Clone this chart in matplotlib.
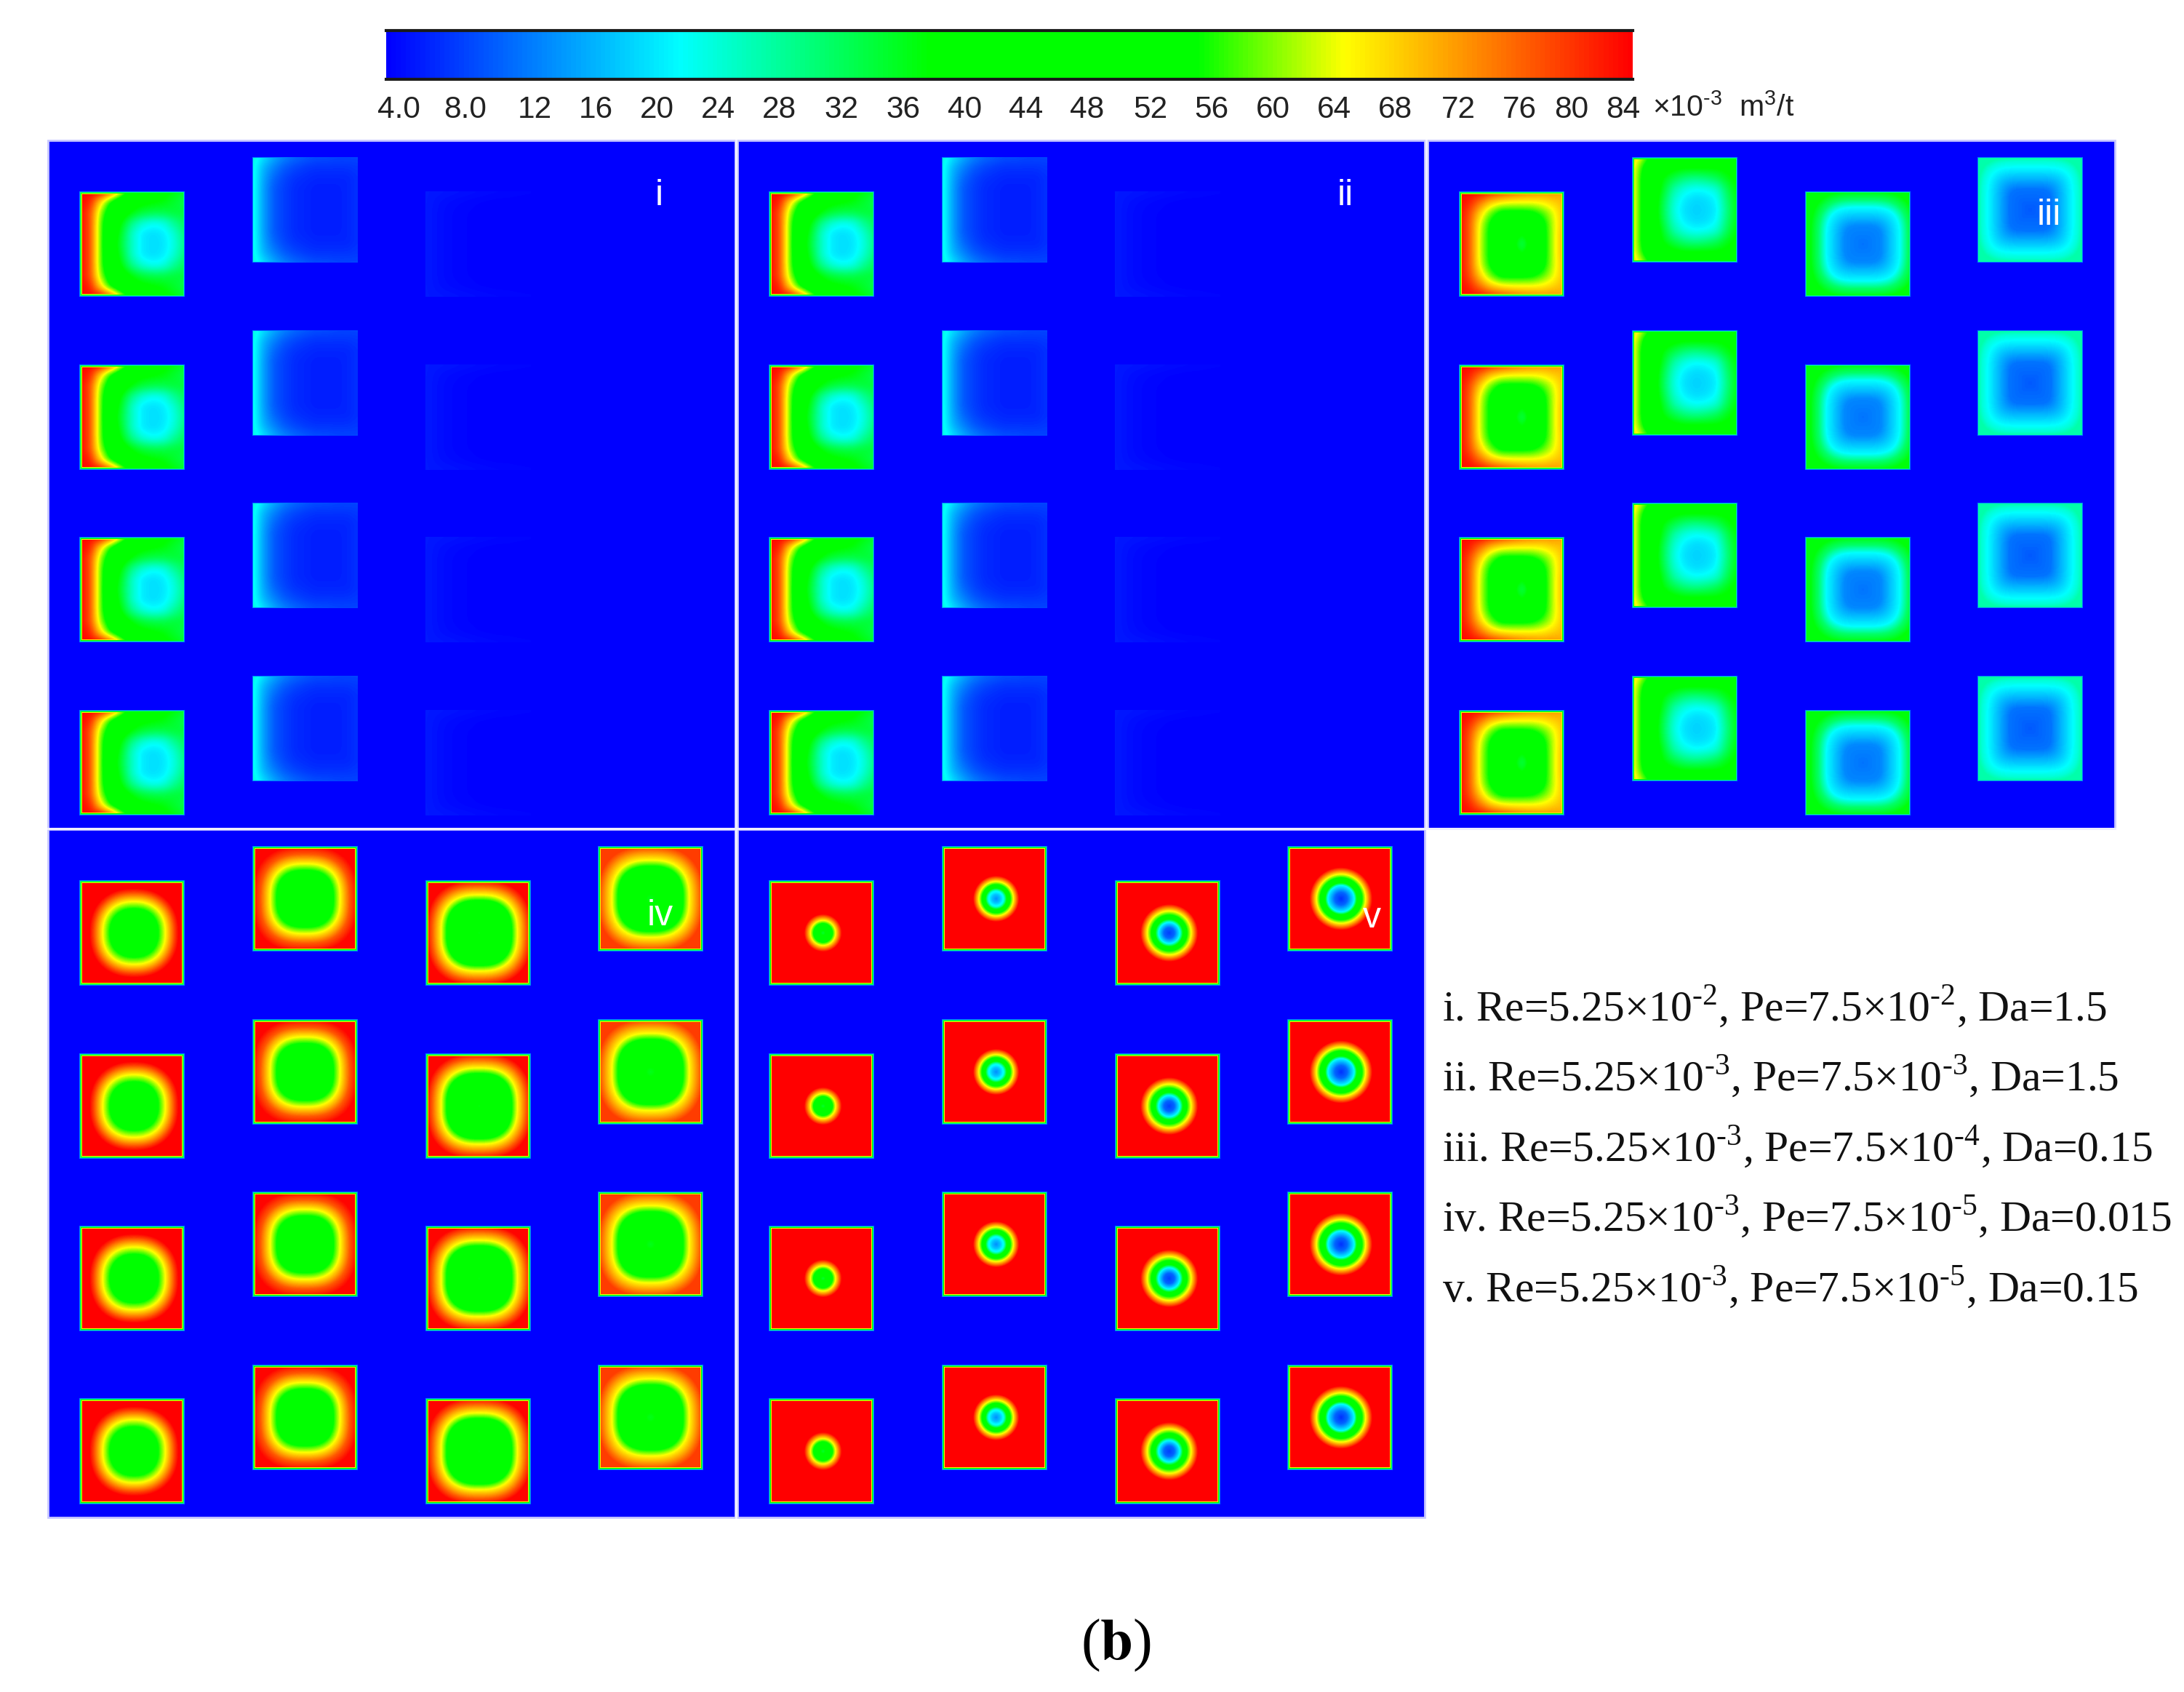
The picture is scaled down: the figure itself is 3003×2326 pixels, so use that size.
import matplotlib
matplotlib.use('Agg')
import matplotlib.pyplot as plt
import numpy as np
from matplotlib.colors import LinearSegmentedColormap
from matplotlib.patches import Rectangle

plt.rcParams['font.family'] = ['Liberation Sans', 'DejaVu Sans']

# colour scale, x10^-3 m3/t
bar_labels = ['4.0', '8.0', '12', '16', '20', '24', '28', '32', '36', '40', '44', '48', '52',
              '56', '60', '64', '68', '72', '76', '80', '84']
vmin = 3.2
vmax = 84.6

# value grids read off the blocks that are not symmetric: rows are the top half
# of a block (mirrored for the bottom), columns go left to right
i_c1 = [[84, 84, 84, 78, 64, 52, 45, 42, 40, 38, 36],
        [84, 82, 68, 55, 47, 42, 40, 39, 38, 36, 34],
        [84, 79, 62, 50, 43, 38, 35, 34, 34, 35, 35],
        [84, 79, 60, 46, 38, 30, 25, 23, 24, 29, 33],
        [84, 79, 60, 44, 36, 26, 21, 20, 21, 25, 31],
        [84, 79, 60, 43, 35, 26, 21, 20, 20.5, 24, 30]]
i_c2 = [[25, 20, 16, 13, 11, 10, 9, 9, 8.5, 8.5, 8.5],
        [24, 17, 13, 10, 8.5, 7.5, 7, 7, 7, 7, 7.5],
        [24, 16, 11, 8.5, 7, 6.5, 6, 6, 6, 6, 7],
        [24, 15.5, 10, 8, 6.5, 6, 5.5, 5.5, 5.5, 6, 7],
        [24, 15.5, 10, 8, 6.5, 6, 5.5, 5.5, 5.5, 6, 7],
        [24, 15.5, 10, 8, 6.5, 6, 5.5, 5.5, 5.5, 6, 7]]
i_c3 = [[5.2, 5, 4.8, 4.6, 4.4, 4.2, 4, 3.9, 3.8, 3.7, 3.6],
        [5.2, 4.6, 4.2, 3.9, 3.7, 3.5, 3.4, 3.3, 3.3, 3.2, 3.2],
        [5.2, 4.5, 4, 3.7, 3.5, 3.4, 3.3, 3.2, 3.2, 3.2, 3.2],
        [5.2, 4.5, 4, 3.7, 3.5, 3.4, 3.3, 3.2, 3.2, 3.2, 3.2],
        [5.2, 4.5, 4, 3.7, 3.5, 3.4, 3.3, 3.2, 3.2, 3.2, 3.2],
        [5.2, 4.5, 4, 3.7, 3.5, 3.4, 3.3, 3.2, 3.2, 3.2, 3.2]]
iii_c1 = [[84, 84, 84, 82, 80, 78, 76, 75, 74, 74, 72],
          [84, 82, 76, 70, 67, 66, 66, 66, 67, 69, 71],
          [84, 79, 69, 60, 54, 54, 54, 55, 59, 65, 71],
          [84, 78, 65, 55, 50, 48, 46, 48, 54, 64, 71],
          [84, 78, 64, 54, 48, 44, 38, 45, 53, 64, 72],
          [84, 78, 64, 54, 47, 42, 33, 43, 53, 64, 72]]
iii_c2 = [[70, 62, 52, 46, 44, 44, 44, 44, 44, 44, 42],
          [68, 56, 46, 42, 40, 39, 39, 39, 39, 40, 41],
          [68, 54, 44, 38, 34, 31, 30, 31, 33, 37, 40],
          [68, 54, 44, 36, 28, 24, 22.5, 23, 25, 33, 39],
          [68, 54, 43, 34, 25, 21, 19.5, 20, 22, 31, 38],
          [68, 54, 43, 33, 24, 20, 19, 19.5, 21, 30, 38]]

# the other blocks: value against normalised distance from the block's core
iii_c3_r = [0, .35, .7, .85, 1]
iii_c3_v = [12, 13.5, 22.3, 32, 38]
iii_c4_r = [0, .4, .8, .92, 1]
iii_c4_v = [10, 12, 22, 25, 28]
iv_c1_r = [0, .46, .6, .78, .85, 1]
iv_c1_v = [46, 56, 66, 80, 84.6, 84.6]
iv_c2_r = [0, .54, .67, .85, 1]
iv_c2_v = [44, 56, 66, 78, 84]
iv_c3_r = [0, .15, .62, .73, .9, 1]
iv_c3_v = [38, 42, 56, 66, 78, 84]
iv_c4_r = [0, .2, .62, .74, .92, 1]
iv_c4_v = [37, 41, 56, 66, 76, 80]
v_c1_r = [0, .1, .18, .24, .36, 1]
v_c1_v = [36, 42, 56, 66, 84.6, 84.6]
v_c2_r = [0, .08, .15, .2, .27, .33, .44, 1]
v_c2_v = [14, 18, 24, 38, 56, 66, 84.6, 84.6]
v_c3_r = [0, .1, .2, .26, .34, .42, .55, 1]
v_c3_v = [8, 11, 22, 38, 56, 66, 84.6, 84.6]
v_c4_r = [0, .12, .25, .3, .4, .47, .6, 1]
v_c4_v = [7, 11, 22, 38, 56, 66, 84.6, 84.6]

cases = ['i. Re=5.25×10$^{\\mathdefault{‐2}}$, Pe=7.5×10$^{\\mathdefault{‐2}}$, Da=1.5',
         'ii. Re=5.25×10$^{\\mathdefault{‐3}}$, Pe=7.5×10$^{\\mathdefault{‐3}}$, Da=1.5',
         'iii. Re=5.25×10$^{\\mathdefault{‐3}}$, Pe=7.5×10$^{\\mathdefault{‐4}}$, Da=0.15',
         'iv. Re=5.25×10$^{\\mathdefault{‐3}}$, Pe=7.5×10$^{\\mathdefault{‐5}}$, Da=0.015',
         'v. Re=5.25×10$^{\\mathdefault{‐3}}$, Pe=7.5×10$^{\\mathdefault{‐5}}$, Da=0.15']

W = 3003
H = 2326
size = 145
cmap = LinearSegmentedColormap.from_list('rate', [(0, '#0000ff'), (.235, '#00ffff'), (.436, '#00ff00'),
                                                  (.652, '#00ff00'), (.77, '#ffff00'), (1, '#ff0000')])


def edge_fringe(z):
    # blocks fade to the background through the whole scale over a few pixels
    n = z.shape[0]
    a = np.arange(n) + .5
    d = np.minimum.outer(np.minimum(a, a[::-1]), np.minimum(a, a[::-1]))
    return np.minimum(z, vmin + d / 4.5 * (vmax - vmin))


def from_grid(grid):
    half = np.array(grid, dtype=float)
    g = np.vstack([half, half[-2::-1]])
    s = np.linspace(0, 1, size)
    z = np.array([np.interp(s, np.linspace(0, 1, g.shape[1]), row) for row in g])
    z = np.array([np.interp(s, np.linspace(0, 1, g.shape[0]), col) for col in z.T]).T
    # box blur to hide the coarse grid
    k = np.ones(9) / 9
    for i in range(2):
        z = np.pad(z, 4, mode='edge')
        z = np.apply_along_axis(lambda m: np.convolve(m, k, mode='valid'), 0, z)
        z = np.apply_along_axis(lambda m: np.convolve(m, k, mode='valid'), 1, z)
    return z


def from_profile(r_pts, v_pts, p=4, cx=0.0, cy=0.0):
    s = np.linspace(-1, 1, size)
    xx, yy = np.meshgrid(s, s)
    r = (np.abs(xx - cx) ** p + np.abs(yy - cy) ** p) ** (1 / p)
    return np.interp(r, r_pts, v_pts)


fig = plt.figure(figsize=(W / 100, H / 100), dpi=100)
ax = fig.add_axes([0, 0, 1, 1])
ax.axis('off')

panel_x = [66, 1014, 1963, 66, 1014]
panel_y = [193, 193, 193, 1140, 1140]
col_dx = [43, 281, 519, 756]
col_dy = [70, 23, 70, 23]
row_step = 237.6

panel_fields = [
    [from_grid(i_c1), from_grid(i_c2), from_grid(i_c3), None],
    [from_grid(i_c1), from_grid(i_c2), from_grid(i_c3), None],
    [from_grid(iii_c1), from_grid(iii_c2), from_profile(iii_c3_r, iii_c3_v, 3.5, .1), from_profile(iii_c4_r, iii_c4_v, 4.5)],
    [from_profile(iv_c1_r, iv_c1_v, 2.3, .04), from_profile(iv_c2_r, iv_c2_v, 2.6),
     from_profile(iv_c3_r, iv_c3_v, 2.6, .02), from_profile(iv_c4_r, iv_c4_v, 2.6)],
    [from_profile(v_c1_r, v_c1_v, 2, .03), from_profile(v_c2_r, v_c2_v, 2, .03),
     from_profile(v_c3_r, v_c3_v, 2, .03), from_profile(v_c4_r, v_c4_v, 2, .02)],
]

for n in range(5):
    ax.add_patch(Rectangle((panel_x[n], panel_y[n]), 945, 946, facecolor='#0000ff', edgecolor='#c8c8ff', lw=2, zorder=1))
    for c in range(4):
        if panel_fields[n][c] is None:
            continue
        z = edge_fringe(panel_fields[n][c])
        for r in range(4):
            x0 = panel_x[n] + col_dx[c]
            y0 = panel_y[n] + col_dy[c] + r * row_step
            ax.imshow(z, extent=[x0, x0 + size, y0 + size, y0], cmap=cmap, vmin=vmin, vmax=vmax,
                      interpolation='bilinear', aspect='auto', zorder=2)

ax.plot([1012, 1012], [193, 2086], color='#eeeeff', lw=2.2, zorder=3)
ax.plot([1961, 1961], [193, 1138], color='#eeeeff', lw=2.2, zorder=3)
ax.plot([66, 2908], [1139, 1139], color='#eeeeff', lw=2.2, zorder=3)

panel_names = ['i', 'ii', 'iii', 'iv', 'v']
name_x = [906, 1850, 2817, 908, 1886]
name_y = [269, 269, 296, 1259, 1262]
for n in range(5):
    ax.text(name_x[n], name_y[n], panel_names[n], color='white', fontsize=36, ha='center', va='center', zorder=4)

case_y = [1384, 1480, 1577, 1673, 1770]
for n in range(5):
    ax.text(1983, case_y[n], cases[n], fontsize=42.8, family='Liberation Serif', ha='left', va='center', color='#111111')

ax.text(1534, 2262, '($\\mathbf{b}$)', fontsize=58, family='Liberation Serif', math_fontfamily='stix',
        ha='center', va='center', color='black')
ax.text(2272, 148, '×10$^{\\mathdefault{‐3}}$  m$^{\\mathdefault{3}}$/t', fontsize=29.5, ha='left', va='center', color='#222222')

ax.set_xlim(0, W)
ax.set_ylim(H, 0)

# colour bar on its own axes, in figure pixels because the printed labels are not evenly spaced
bar_x0 = 531
bar_x1 = 2245
label_x = [548, 640, 735, 819, 903, 987, 1071, 1157, 1242, 1327, 1411, 1495, 1582, 1666, 1750, 1834, 1918, 2005,
           2089, 2161, 2232]
cax = fig.add_axes([bar_x0 / W, 1 - 109 / H, (bar_x1 - bar_x0) / W, 67 / H])
cax.imshow(np.linspace(vmin, vmax, 512)[None, :], extent=[bar_x0, bar_x1, 0, 1], cmap=cmap, vmin=vmin, vmax=vmax, aspect='auto')
cax.set_xlim(bar_x0, bar_x1)
cax.set_xticks(label_x)
cax.set_xticklabels(bar_labels, fontsize=30.5, color='#222222')
cax.set_yticks([])
cax.tick_params(axis='x', length=0, pad=16)
for side in ['left', 'right']:
    cax.spines[side].set_visible(False)
for side in ['top', 'bottom']:
    cax.spines[side].set_linewidth(3)
    cax.spines[side].set_color('#1a1a1a')

fig.savefig('out.png', dpi=100)
